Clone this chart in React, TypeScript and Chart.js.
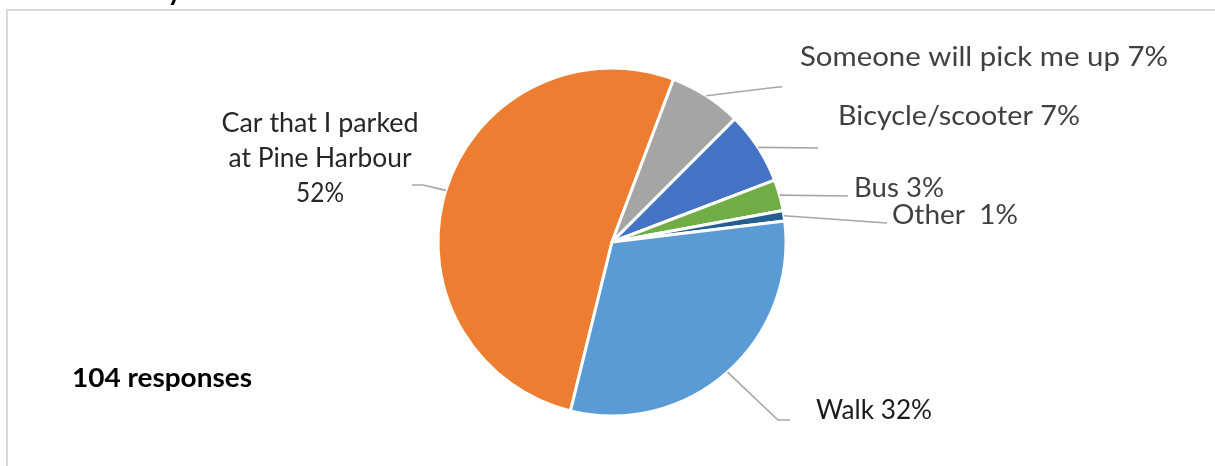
import React, { useEffect, useRef } from "react";
import { Chart, registerables } from "chart.js";

Chart.register(...registerables);

const categories = [
  "Car that I parked at Pine Harbour",
  "Someone will pick me up",
  "Bicycle/scooter",
  "Bus",
  "Other",
  "Walk",
];
const responses = [54, 7, 7, 3, 1, 32];
const percentLabels = ["52%", "7%", "7%", "3%", "1%", "32%"];
const sliceColors = ["#ED7D31", "#A5A5A5", "#4472C4", "#70AD47", "#255E91", "#5B9BD5"];
const totalNote = "104 responses";

// label layout (positions only)
const labelLayout = [
  { lines: ["Car that I parked", "at Pine Harbour", percentLabels[0]], cx: 320, base: 131.7, lh: 35, widths: [197, 183, 48], color: "#262626", leader: [[423, 185], [412, 185]] },
  { lines: [categories[1] + " " + percentLabels[1]], x: 800, base: 65.5, widths: [368], color: "#404040", leader: [[778, 87], [782, 87]] },
  { lines: [categories[2] + " " + percentLabels[2]], x: 838, base: 125, widths: [242], color: "#404040", leader: [[818, 148]] },
  { lines: [categories[3] + " " + percentLabels[3]], x: 854, base: 196.5, widths: [90], color: "#404040", leader: [[848, 196]] },
  { lines: [categories[4] + "  " + percentLabels[4]], x: 892, base: 224, widths: [126], color: "#404040", leader: [[887, 223]] },
  { lines: [categories[5] + " " + percentLabels[5]], x: 816, base: 419.3, widths: [116], color: "#1a1a1a", leader: [[778, 420], [790, 420]] },
];

const FONT = "Lato, 'Open Sans', sans-serif";

function drawFitted(ctx: CanvasRenderingContext2D, text: string, x: number, base: number, width: number, font: string, color: string, center: boolean) {
  ctx.save();
  ctx.font = font;
  ctx.fillStyle = color;
  ctx.textBaseline = "alphabetic";
  ctx.textAlign = "left";
  const m = ctx.measureText(text).width;
  const sx = width / m;
  const left = center ? x - width / 2 : x;
  ctx.translate(left, base);
  ctx.scale(sx, 1);
  ctx.fillText(text, 0, 0);
  ctx.restore();
}

const overlayPlugin = {
  id: "overlay",
  afterDraw(chart: any) {
    const ctx: CanvasRenderingContext2D = chart.ctx;
    // frame
    ctx.save();
    ctx.strokeStyle = "#D9D9D9";
    ctx.lineWidth = 2;
    ctx.beginPath();
    ctx.moveTo(7, 466);
    ctx.lineTo(7, 10);
    ctx.lineTo(1215, 10);
    ctx.stroke();
    ctx.restore();

    // clipped title fragment
    ctx.save();
    ctx.font = "bold 28px " + FONT;
    ctx.fillStyle = "#000";
    ctx.textAlign = "right";
    ctx.textBaseline = "alphabetic";
    ctx.fillText("Travel to the ferry", 182, -0.5);
    ctx.restore();

    const meta = chart.getDatasetMeta(0);
    meta.data.forEach((arc: any, i: number) => {
      const p = arc.getProps(["x", "y", "startAngle", "endAngle", "outerRadius"], true);
      const mid = (p.startAngle + p.endAngle) / 2;
      const sx = p.x + Math.cos(mid) * p.outerRadius;
      const sy = p.y + Math.sin(mid) * p.outerRadius;
      const lay = labelLayout[i];
      ctx.save();
      ctx.strokeStyle = "#A6A6A6";
      ctx.lineWidth = 1.6;
      ctx.beginPath();
      ctx.moveTo(sx, sy);
      lay.leader.forEach((pt) => ctx.lineTo(pt[0], pt[1]));
      ctx.stroke();
      ctx.restore();
      lay.lines.forEach((ln, j) => {
        const base = lay.base + j * (lay.lh || 0);
        if (lay.cx !== undefined) {
          drawFitted(ctx, ln, lay.cx, base, lay.widths[j], "26px " + FONT, lay.color, true);
        } else {
          drawFitted(ctx, ln, lay.x as number, base, lay.widths[j], "26px " + FONT, lay.color, false);
        }
      });
    });

    drawFitted(ctx, totalNote, 72, 386.7, 180, "bold 27px " + FONT, "#000", false);
  },
};

export default function App() {
  const ref = useRef<HTMLCanvasElement | null>(null);
  useEffect(() => {
    if (!ref.current) return;
    const chart = new Chart(ref.current, {
      type: "pie",
      data: {
        labels: categories,
        datasets: [
          {
            data: responses,
            backgroundColor: sliceColors,
            borderColor: "#FFFFFF",
            borderWidth: 3,
          },
        ],
      },
      options: {
        responsive: false,
        animation: false,
        rotation: 193.8,
        radius: 174,
        layout: { padding: { left: 9, right: 0, top: 18, bottom: 0 } },
        plugins: {
          legend: { display: false },
          tooltip: { enabled: false },
          title: { display: false },
        },
      },
      plugins: [overlayPlugin],
    });
    return () => chart.destroy();
  }, []);
  return (
    <div style={{ position: "absolute", left: 0, top: 0, width: 1215, height: 466, background: "#fff" }}>
      <canvas ref={ref} width={1215} height={466} style={{ display: "block", width: 1215, height: 466 }} />
    </div>
  );
}
